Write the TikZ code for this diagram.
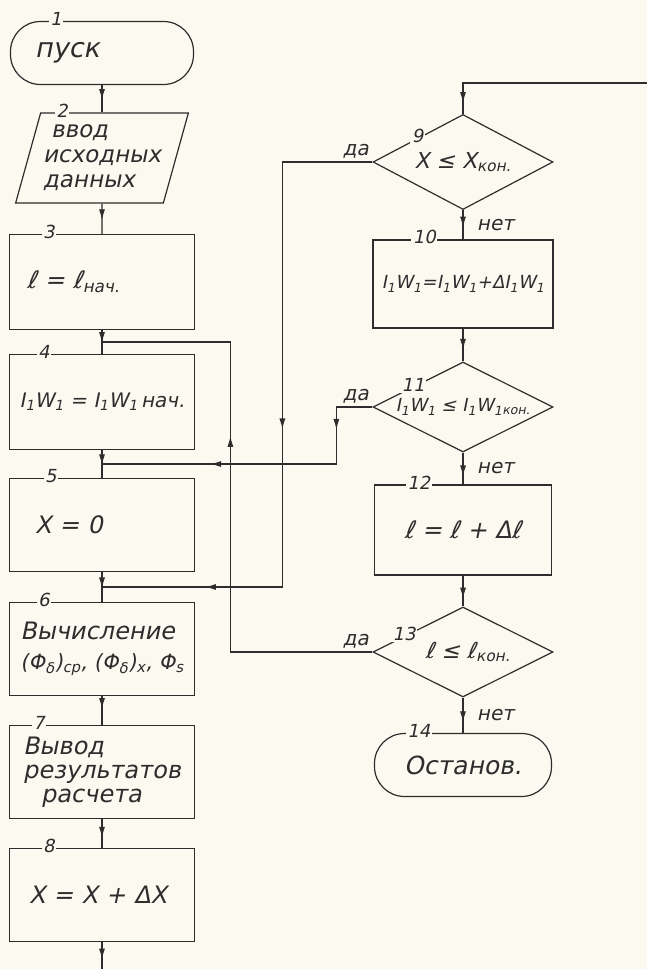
\documentclass[tikz,border=0pt]{standalone}
\usepackage{fontspec}
\setmainfont{DejaVu Sans}[FakeSlant=0.2]
\usetikzlibrary{shapes.geometric, arrows.meta, decorations.markings, calc}
\definecolor{paper}{RGB}{251,249,240}
\definecolor{ink}{RGB}{45,45,45}
\newcommand{\sbs}[1]{\textsubscript{#1}}
\newcommand{\setfs}[1]{\fontsize{#1}{#1}\selectfont}
\tikzset{
  line/.style={draw=ink, line width=1.2pt},
  block/.style={line, rectangle, minimum width=185pt, minimum height=#1, align=left, inner sep=5pt, font=\setfs{24}},
  block/.default=93pt,
  term/.style={line, rectangle, rounded corners=30pt, minimum width=#1, minimum height=63pt, font=\setfs{27}},
  term/.default=180pt,
  io/.style={line, trapezium, trapezium left angle=70, trapezium right angle=110, trapezium stretches=true,
    minimum width=173pt, minimum height=90pt, inner sep=0pt, align=left, font=\fontsize{23}{25}\selectfont},
  cond/.style={line, diamond, aspect=2, minimum width=180pt, minimum height=#1, inner sep=0pt, font=\setfs{22}},
  cond/.default=90pt,
  num/.style={fill=paper, inner sep=1.5pt, yshift=2pt, font=\setfs{18}},
  lab/.style={font=\setfs{20}},
  tip at/.style={postaction={decorate, decoration={markings, mark=at position #1 with {\arrow{Latex[length=11pt,width=6pt]}}}}},
}
\begin{document}
\begin{tikzpicture}[x=1pt, y=-1pt, every node/.append style={text=ink}]
\path[use as bounding box, fill=paper] (0,0) rectangle (647,969);

\node[term=183pt, text width=150pt, align=left] (b1) at (102,53) {\hspace*{8pt}пуск};
\node[io] (b2) at (102,158) {\hspace*{8pt}ввод\\исходных\\данных};
\node[block=95pt, text width=170pt] (b3) at (102,282) {\hspace*{10pt}ℓ = ℓ\sbs{нач.}};
\node[block=95pt, font=\setfs{20}] (b4) at (102,402) {I\sbs{1}W\sbs{1} = I\sbs{1}W\sbs{1}\,нач.};
\node[block, text width=170pt] (b5) at (102,525) {\hspace*{18pt}X = 0};
\node[block] (b6) at (102,649) {Вычисление\\[6pt]{\setfs{21}(Φ\sbs{δ})\sbs{ср}, (Φ\sbs{δ})\sbs{x}, Φ\sbs{s}}};
\node[block] (b7) at (102,772) {Вывод\\результатов\\\hspace*{18pt}расчета};
\node[block, text width=170pt] (b8) at (102,895) {\hspace*{12pt}X = X + ΔX};

\node[cond=95pt] (d9) at (463,162) {X ≤ X\sbs{кон.}};
\node[block=88pt, minimum width=180pt, font=\setfs{18}] (b10) at (463,284) {I\sbs{1}W\sbs{1}=I\sbs{1}W\sbs{1}+ΔI\sbs{1}W\sbs{1}};
\node[cond, font=\setfs{18}] (d11) at (463,407) {\raisebox{-4pt}{I\sbs{1}W\sbs{1} ≤ I\sbs{1}W\sbs{1}\sbs{кон.}}};
\node[block=90pt, minimum width=177pt] (b12) at (463,530) {ℓ = ℓ + Δℓ};
\node[cond] (d13) at (463,652) {\hspace*{10pt}ℓ ≤ ℓ\sbs{кон.}};
\node[term=177pt, font=\setfs{25}] (b14) at (463,765) {Останов.};

\node[num] at ([xshift=46pt]b1.north west) {1};
\node[num] at ([xshift=22pt]b2.top left corner) {2};
\foreach \n/\dx in {3/40, 4/35, 5/42, 6/35, 7/30, 8/40, 10/52, 12/45, 14/45}
  \node[num] at ([xshift=\dx pt]b\n.north west) {\n};
\foreach \n/\f in {9/0.5, 11/0.45, 13/0.35}
  \node[num] at ($(d\n.west)!\f!(d\n.north)$) {\n};
\foreach \d in {d9, d11, d13}
  \node[lab, anchor=south east] at (\d.west) {да};

\coordinate (j4) at ($(b3.south)!0.5!(b4.north)$);
\coordinate (j5) at ($(b4.south)!0.5!(b5.north)$);
\coordinate (j6) at ($(b5.south)!0.5!(b6.north)$);
\coordinate (loop in) at (647,83);
\coordinate (loop out) at (102,969);

\foreach \a/\b/\p in {b1/b2/0.55, b2/b3/0.55, b3/b4/0.55, b4/b5/0.55, b5/b6/0.55, b6/b7/0.45, b7/b8/0.65}
  \draw[line, tip at=\p] (\a) -- (\b);
\draw[line, tip at=0.6] (d9) -- node[lab, right=10pt] {нет} (b10);
\draw[line, tip at=0.65] (b10) -- (d11);
\draw[line, tip at=0.75] (d11) -- node[lab, right=10pt] {нет} (b12);
\draw[line, tip at=0.75] (b12) -- (d13);
\draw[line, tip at=0.7] (d13) -- node[lab, right=10pt] {нет} (b14);

% returns to the left column
\draw[line, tip at=0.617] (d13.west) -- ++(-142,0) |- (j4);
\draw[line, tip at=0.18, tip at=0.67] (d11.west) -- ++(-36,0) |- (j5);
\draw[line, tip at=0.514, tip at=0.852] (d9.west) -- ++(-90,0) |- (j6);
\draw[line, tip at=0.95] (loop in) -| (d9.north);
\draw[line, tip at=0.65] (b8) -- (loop out);
\end{tikzpicture}
\end{document}
